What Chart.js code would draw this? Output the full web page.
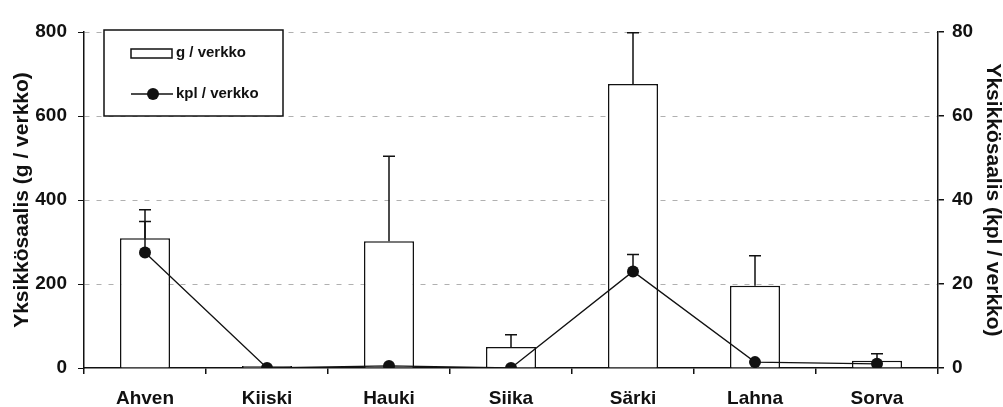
<!DOCTYPE html>
<html>
<head>
<meta charset="utf-8">
<script src="https://cdn.jsdelivr.net/npm/chart.js@4.4.1/dist/chart.umd.min.js"></script>
<style>
  html, body { margin: 0; padding: 0; background: #fff; }
  #wrap { width: 1003px; height: 407px; }
</style>
</head>
<body>
<div id="wrap"><canvas id="catchChart" width="1003" height="407"></canvas></div>
<script>
// data
var categories = ['Ahven', 'Kiiski', 'Hauki', 'Siika', 'Särki', 'Lahna', 'Sorva'];
var gPerNet = [309, 5, 302, 50, 676, 196, 17];
var gError = [68, 0, 202, 29, 122, 71, 17];
var kplPerNet = [27.5, 0, 0.5, 0, 23, 1.4, 1];
var kplError = [7.4, 0, 0, 0, 4, 0, 0];
var leftTicks = [0, 200, 400, 600, 800];
var rightTicks = [0, 20, 40, 60, 80];

var FONT = '"Liberation Sans", Arial, sans-serif';

// error bars drawn on top of bars and points
var errorBars = {
    id: 'errorBars',
    afterDatasetsDraw: function (chart) {
        var ctx = chart.ctx;
        var sets = [
            { meta: chart.getDatasetMeta(0), vals: gPerNet, errs: gError, scale: chart.scales.y },
            { meta: chart.getDatasetMeta(1), vals: kplPerNet, errs: kplError, scale: chart.scales.y1 }
        ];
        ctx.save();
        ctx.strokeStyle = '#111';
        ctx.lineWidth = 1.5;
        sets.forEach(function (s) {
            s.meta.data.forEach(function (el, i) {
                if (!s.errs[i]) return;
                var y0 = s.scale.getPixelForValue(s.vals[i]);
                var y1 = s.scale.getPixelForValue(s.vals[i] + s.errs[i]);
                ctx.beginPath();
                ctx.moveTo(el.x, y0);
                ctx.lineTo(el.x, y1);
                ctx.moveTo(el.x - 6, y1);
                ctx.lineTo(el.x + 6, y1);
                ctx.stroke();
            });
        });
        ctx.restore();
    }
};

// legend box inside the plot, upper left
var boxLegend = {
    id: 'boxLegend',
    afterDraw: function (chart) {
        var ctx = chart.ctx;
        ctx.save();
        ctx.fillStyle = '#fff';
        ctx.fillRect(104, 30, 179, 86);
        ctx.strokeStyle = '#111';
        ctx.lineWidth = 1.5;
        ctx.strokeRect(104, 30, 179, 86);
        // bar swatch
        ctx.strokeRect(131, 49, 41, 9);
        // line swatch
        ctx.beginPath();
        ctx.moveTo(131, 94);
        ctx.lineTo(173, 94);
        ctx.stroke();
        ctx.fillStyle = '#111';
        ctx.beginPath();
        ctx.arc(153, 94, 6, 0, Math.PI * 2);
        ctx.fill();
        ctx.font = 'bold 15px ' + FONT;
        ctx.textBaseline = 'middle';
        ctx.fillText('g / verkko', 176, 53);
        ctx.fillText('kpl / verkko', 176, 94);
        ctx.restore();
    }
};

var ctx = document.getElementById('catchChart').getContext('2d');
var catchChart = new Chart(ctx, {
    type: 'bar',
    data: {
        labels: categories,
        datasets: [{
            label: 'g / verkko',
            data: gPerNet,
            yAxisID: 'y',
            backgroundColor: '#fff',
            borderColor: '#111',
            borderWidth: 1.5,
            categoryPercentage: 1,
            barPercentage: 0.41,
            order: 2
        }, {
            type: 'line',
            label: 'kpl / verkko',
            data: kplPerNet,
            yAxisID: 'y1',
            borderColor: '#111',
            borderWidth: 1.3,
            backgroundColor: '#111',
            pointRadius: 6,
            pointBackgroundColor: '#111',
            pointBorderWidth: 0,
            tension: 0,
            order: 1
        }]
    },
    options: {
        responsive: false,
        animation: false,
        layout: { padding: { top: 32, bottom: 0, left: 0, right: 0 } },
        plugins: {
            legend: { display: false },
            tooltip: { enabled: false }
        },
        scales: {
            x: {
                offset: true,
                grid: { offset: true, drawOnChartArea: false, tickLength: 6, color: '#111', lineWidth: 1.5 },
                border: { display: true, color: '#111', width: 1.5 },
                ticks: { color: '#111', padding: 13, font: { family: FONT, size: 19, weight: 'bold' } },
                afterFit: function (s) { s.height = 39; }
            },
            y: {
                position: 'left',
                min: 0,
                max: 800,
                afterBuildTicks: function (s) { s.ticks = leftTicks.map(function (v) { return { value: v }; }); },
                grid: {
                    color: function (c) { return c.tick && c.tick.value === 0 ? 'rgba(0,0,0,0)' : '#b0b0b0'; },
                    tickColor: '#111',
                    lineWidth: 1,
                    tickLength: 6
                },
                border: { display: true, color: '#111', width: 1.5, dash: [5, 7] },
                ticks: { color: '#111', padding: 11, font: { family: FONT, size: 19, weight: 'bold' } },
                title: {
                    display: true,
                    text: 'Yksikkösaalis (g / verkko)',
                    color: '#111',
                    padding: { top: 12, bottom: 0 },
                    font: { family: FONT, size: 21, weight: 'bold', lineHeight: 1 }
                },
                afterFit: function (s) { s.width = 84; }
            },
            y1: {
                position: 'right',
                min: 0,
                max: 80,
                afterBuildTicks: function (s) { s.ticks = rightTicks.map(function (v) { return { value: v }; }); },
                grid: { drawOnChartArea: false, color: '#111', tickLength: 6, lineWidth: 1.5 },
                border: { display: true, color: '#111', width: 1.5 },
                ticks: { color: '#111', padding: 8, font: { family: FONT, size: 19, weight: 'bold' } },
                title: {
                    display: true,
                    text: 'Yksikkösaalis (kpl / verkko)',
                    color: '#111',
                    padding: { top: 0, bottom: 0 },
                    font: { family: FONT, size: 21, weight: 'bold', lineHeight: 1 }
                },
                afterFit: function (s) { s.width = 65; }
            }
        }
    },
    plugins: [errorBars, boxLegend]
});
</script>
</body>
</html>
